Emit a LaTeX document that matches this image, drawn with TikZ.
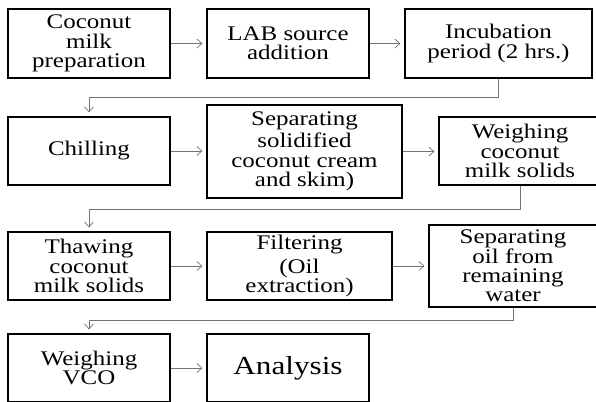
\documentclass[tikz,border=0pt]{standalone}
\usepackage{fontspec}
\usepackage{tikz}
\usetikzlibrary{arrows.meta}
\newfontfamily\boxfont[FakeStretch=1.2]{Liberation Serif}

\begin{document}
\begin{tikzpicture}[x=1pt,y=-1pt,
  stage/.style={draw,line width=1.2pt,align=center,inner sep=0pt,
    minimum width=162pt,minimum height=68pt,
    font=\boxfont\fontsize{20.8}{19.2}\selectfont},
  flow/.style={draw=black!55,line width=0.7pt,
    -{Straight Barb[length=5pt,width=9pt]},shorten >=4pt}]
  \useasboundingbox (0,0) rectangle (596,401);
  % first row
  \node[stage,minimum height=69pt] (prep) at (89,43.5){Coconut\\milk\\preparation};
  \node[stage,minimum height=69pt] (lab) at (288,43.5){LAB source\\addition};
  \node[stage,minimum height=69pt,minimum width=187pt] (incub) at (498.5,43.5){Incubation\\period (2 hrs.)};
  \draw[flow] (prep) -- (lab);
  \draw[flow] (lab) -- (incub);
  % second row
  \node[stage] (chill) at (89,151){Chilling};
  \node[stage,minimum width=195pt,minimum height=93pt] (sepcream) at (304.5,151.5){Separating\\[2pt]solidified\\[1pt]coconut cream\\and skim)};
  \node[stage] (weighsolid) at (520,151){Weighing\\coconut\\milk solids};
  \draw[flow] (chill) -- (chill-|sepcream.west);
  \draw[flow] (sepcream) -- (sepcream-|weighsolid.west);
  % third row
  \node[stage] (thaw) at (89,266){Thawing\\coconut\\milk solids};
  \node[stage,minimum width=185pt] (filter) at (299.5,266){Filtering\\[4pt](Oil\\extraction)};
  \node[stage,minimum width=168pt,minimum height=82pt] (sepoil) at (513,266){Separating\\oil from\\remaining\\water};
  \draw[flow] (thaw) -- (filter);
  \draw[flow] (filter) -- (sepoil);
  % last row
  \node[stage] (weighvco) at (89,368){Weighing\\VCO};
  \node[stage,font=\boxfont\fontsize{26}{22}\selectfont] (analysis) at (288,368){Analysis};
  \draw[flow] (weighvco) -- (analysis);
  % row to row
  \draw[flow] (incub.south) -- ++(0,19) -| (chill.north);
  \draw[flow] (weighsolid.south) -- ++(0,24) -| (thaw.north);
  \draw[flow] (sepoil.south) -- ++(0,13) -| (weighvco.north);
\end{tikzpicture}
\end{document}
